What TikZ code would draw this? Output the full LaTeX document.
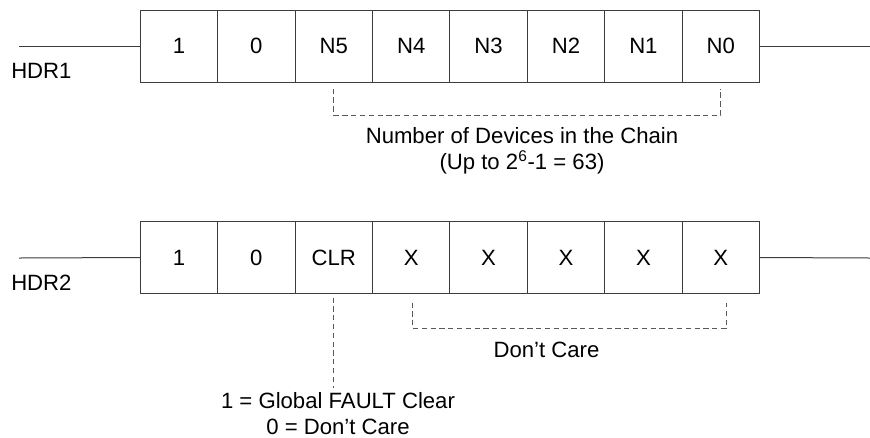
\documentclass[tikz,border=0pt]{standalone}
\usepackage{fontspec}
\setmainfont{Liberation Sans}
\usepackage{tikz}
\usetikzlibrary{positioning,calc}
\definecolor{lineGray}{HTML}{3C3C3C}
\tikzset{
  cell/.style={draw=lineGray,line width=0.75pt,minimum width=58.05pt,minimum height=54pt,inner sep=0pt,outer sep=0pt,font=\fontsize{16.6}{19.5}\selectfont},
  lbl/.style={inner sep=0pt,align=center,font=\fontsize{16.6}{19.5}\selectfont},
  wire/.style={draw=lineGray,line width=0.75pt},
  brk/.style={draw=lineGray!85,line width=0.75pt,dash pattern=on 4pt off 2.6pt}
}

\begin{document}
\begin{tikzpicture}[x=0.75pt,y=-0.75pt]
\useasboundingbox (0,0) rectangle (870,437);

% HDR1 frame
\node[cell] (a1) at (179,46) {1};
\node[cell, right=0pt of a1] (a2) {0};
\node[cell, right=0pt of a2] (a3) {N5};
\node[cell, right=0pt of a3] (a4) {N4};
\node[cell, right=0pt of a4] (a5) {N3};
\node[cell, right=0pt of a5] (a6) {N2};
\node[cell, right=0pt of a6] (a7) {N1};
\node[cell, right=0pt of a7] (a8) {N0};

\coordinate (in1) at (19,46);
\coordinate (out1) at (870,46);
\draw[wire] (in1) -- (a1.west);
\draw[wire] (a8.east) -- (out1);
\node[lbl, anchor=west] (hdr1) at (11,71) {HDR1};

\draw[brk] ([yshift=-5pt]a3.south) |- ([yshift=-25pt]a8.south) -- ([yshift=-5pt]a8.south);
\node[lbl] (num) at (522,151) {Number of Devices in the Chain\\(Up to 2\textsuperscript{6}-1 = 63)};

% HDR2 frame
\node[cell] (b1) at (179,257.5) {1};
\node[cell, right=0pt of b1] (b2) {0};
\node[cell, right=0pt of b2] (b3) {CLR};
\node[cell, right=0pt of b3] (b4) {X};
\node[cell, right=0pt of b4] (b5) {X};
\node[cell, right=0pt of b5] (b6) {X};
\node[cell, right=0pt of b6] (b7) {X};
\node[cell, right=0pt of b7] (b8) {X};

\coordinate (in2) at (19,258);
\coordinate (out2) at (870,258);
\draw[wire] (in2) -- (b1.west);
\draw[wire] (b8.east) -- (out2);
\node[lbl, anchor=west] (hdr2) at (11,282.5) {HDR2};

\node[lbl] (clr) at (338,413.5) {1 = Global FAULT Clear\\0 = Don’t Care};
\draw[brk] ([yshift=-3pt]b3.south) -- ([yshift=-70.5pt]b3.south);

\draw[brk] ([xshift=1pt,yshift=-6.75pt]b4.south) |- ([xshift=4pt,yshift=-26.25pt]b8.south) -- ([xshift=4pt,yshift=-6.75pt]b8.south);
\node[lbl] (dc) at (546.5,350) {Don’t Care};
\end{tikzpicture}
\end{document}
